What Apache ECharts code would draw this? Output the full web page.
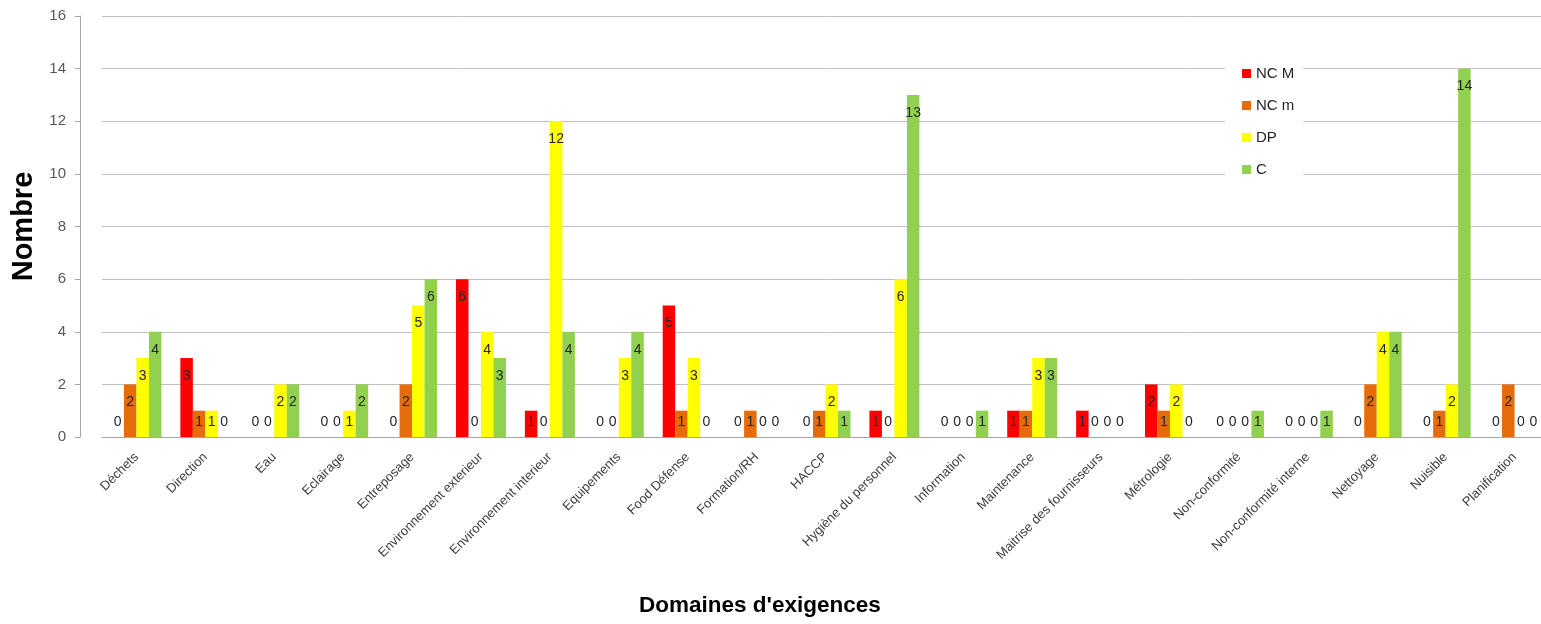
<!DOCTYPE html>
<html>
<head>
<meta charset="utf-8">
<script src="https://cdn.jsdelivr.net/npm/echarts@6/dist/echarts.min.js"></script>
<style>
  html, body { margin: 0; padding: 0; background: #fff; overflow: hidden; }
  #chart { width: 1549px; height: 624px; }
</style>
</head>
<body>
<div id="chart"></div>
<script>
// domaines d'exigences
var categories = ['Déchets', 'Direction', 'Eau', 'Eclairage', 'Entreposage', 'Environnement exterieur',
    'Environnement interieur', 'Equipements', 'Food Défense', 'Formation/RH', 'HACCP',
    'Hygiène du personnel', 'Information', 'Maintenance', 'Maitrise des fournisseurs', 'Métrologie',
    'Non-conformité', 'Non-conformité interne', 'Nettoyage', 'Nuisible', 'Planification']

var nc_majeure = [0, 3, 0, 0, 0, 6, 1, 0, 5, 0, 0, 1, 0, 1, 1, 2, 0, 0, 0, 0, 0]
var nc_mineure = [2, 1, 0, 0, 2, 0, 0, 0, 1, 1, 1, 0, 0, 1, 0, 1, 0, 0, 2, 1, 2]
var dp_values  = [3, 1, 2, 1, 5, 4, 12, 3, 3, 0, 2, 6, 0, 3, 0, 2, 0, 0, 4, 2, 0]
var c_values   = [4, 0, 2, 2, 6, 3, 4, 4, 0, 0, 1, 13, 1, 3, 0, 0, 1, 1, 4, 14, 0]

var y_ticks = [0, 2, 4, 6, 8, 10, 12, 14, 16]

var font = "'Liberation Sans', 'DejaVu Sans', sans-serif"

function make_series(name, values, color) {
    var data = []
    for (var i = 0; i < values.length; i++) {
        var v = values[i]
        var item = {value: v}
        // small bars: label sits just above the baseline (like excel)
        if (v <= 1) {
            item.label = {position: 'insideBottom', distance: 8}
        }
        data.push(item)
    }
    return {
        name: name,
        type: 'bar',
        data: data,
        barWidth: 12.5,
        barGap: '0%',
        itemStyle: {color: color},
        label: {
            show: true,
            position: 'insideTop',
            distance: 11,
            color: '#262626',
            fontSize: 14,
            fontFamily: font
        }
    }
}

var option = {
    animation: false,
    title: {
        text: "Domaines d'exigences",
        left: 634,
        top: 589,
        textStyle: {fontSize: 22.5, fontWeight: 'bold', color: '#000', fontFamily: font}
    },
    legend: {
        orient: 'vertical',
        left: 1225,
        top: 58,
        backgroundColor: '#fff',
        padding: [8, 9, 8, 17],
        itemGap: 17,
        itemWidth: 9,
        itemHeight: 9,
        icon: 'rect',
        textStyle: {fontSize: 15, color: '#262626', fontFamily: font},
        data: ['NC M', 'NC m', 'DP', 'C']
    },
    grid: {
        left: 102,
        right: 0,
        top: 16,
        bottom: 187
    },
    xAxis: {
        type: 'category',
        data: categories,
        axisLine: {lineStyle: {color: '#A6A6A6'}},
        axisTick: {length: 5, lineStyle: {color: '#A6A6A6'}},
        axisLabel: {
            interval: 0,
            rotate: 45,
            margin: 18,
            fontSize: 13,
            color: '#404040',
            fontFamily: font
        }
    },
    yAxis: {
        type: 'value',
        min: y_ticks[0],
        max: y_ticks[y_ticks.length - 1],
        interval: y_ticks[1] - y_ticks[0],
        offset: 22,
        name: 'Nombre',
        nameLocation: 'middle',
        nameGap: 37,
        nameTextStyle: {fontSize: 29, fontWeight: 'bold', color: '#000', fontFamily: font},
        axisLine: {show: true, lineStyle: {color: '#A6A6A6'}},
        axisTick: {show: true, length: 5, lineStyle: {color: '#A6A6A6'}},
        axisLabel: {fontSize: 15, color: '#595959', margin: 14, fontFamily: font},
        splitLine: {lineStyle: {color: '#C0C0C0', width: 1}}
    },
    series: [
        make_series('NC M', nc_majeure, '#FF0000'),
        make_series('NC m', nc_mineure, '#E46C0A'),
        make_series('DP', dp_values, '#FFFF00'),
        make_series('C', c_values, '#92D050')
    ]
}

var chart = echarts.init(document.getElementById('chart'))
chart.setOption(option)
</script>
</body>
</html>
